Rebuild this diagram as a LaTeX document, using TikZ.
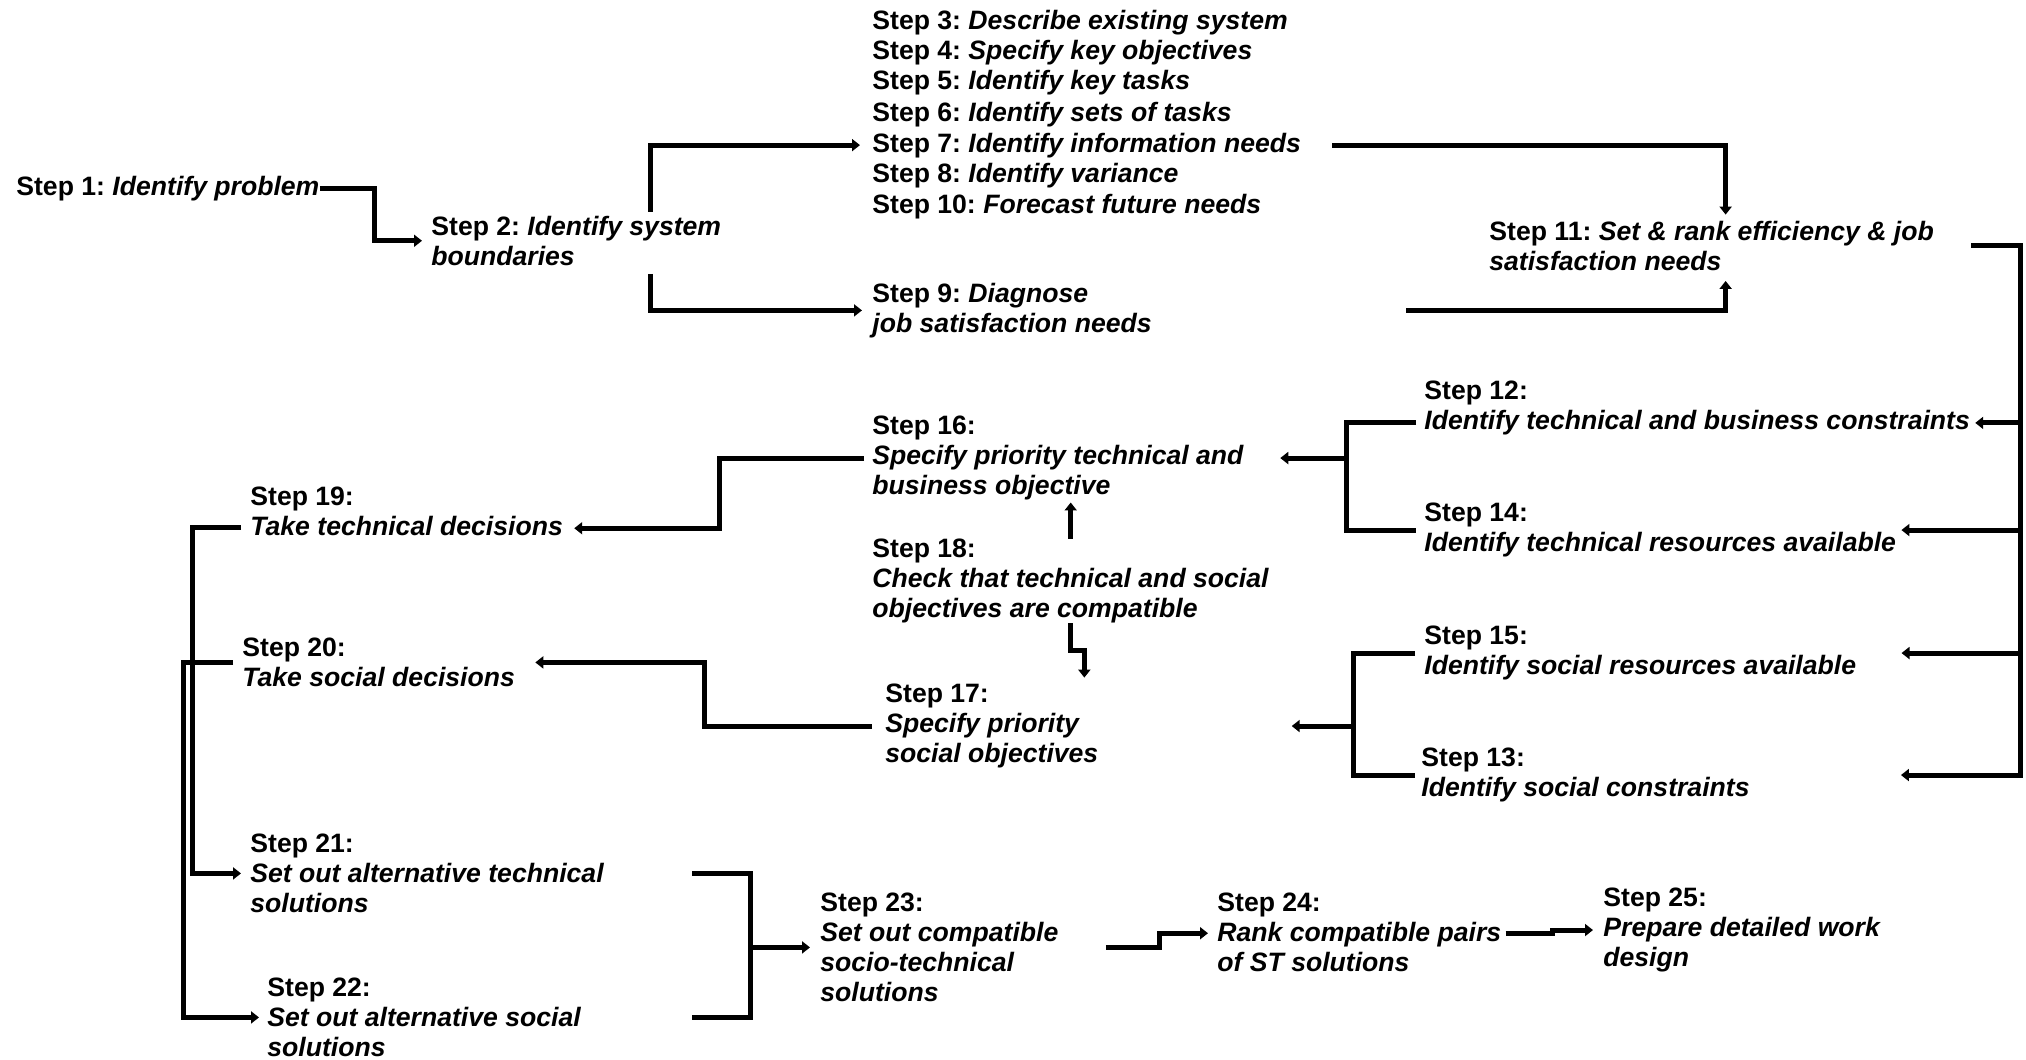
\documentclass[tikz,border=0pt]{standalone}
\usepackage{fontspec}
\setmainfont{Liberation Sans}
\usetikzlibrary{arrows.meta}
\frenchspacing

\begin{document}
\begin{tikzpicture}[x=0.5pt, y=-0.5pt]
        \tikzstyle{stepbox} = [anchor=north west, inner sep=0pt, align=left, font={\fontsize{13.3}{15}\selectfont\bfseries}]
        \tikzstyle{stepline} = [stepbox, anchor=base west]
        \tikzstyle{link} = [line width=2.5pt]
        \tikzstyle{flow} = [link, -{Triangle[length=4pt, width=6pt]}]
        \useasboundingbox (0,0) rectangle (2026,1060);
        % steps
        \node[stepline] (s1) at (16,195) {Step 1: \textit{Identify problem}};
        \node[stepbox] (s2) at (431,215.6) {Step 2: \textit{Identify system}\\\textit{boundaries}};
        \node[stepline] (s3) at (872,29) {Step 3: \textit{Describe existing system}};
        \node[stepline] (s4) at (872,60) {Step 4: \textit{Specify key objectives}};
        \node[stepline] (s5) at (872,90) {Step 5: \textit{Identify key tasks}};
        \node[stepline] (s6) at (872,121) {Step 6: \textit{Identify sets of tasks}};
        \node[stepline] (s7) at (872,152) {Step 7: \textit{Identify information needs}};
        \node[stepline] (s8) at (872,182) {Step 8: \textit{Identify variance}};
        \node[stepline] (s10) at (872,213) {Step 10: \textit{Forecast future needs}};
        \node[stepbox] (s9) at (872,282.6) {Step 9: \textit{Diagnose}\\\textit{job satisfaction needs}};
        \node[stepbox] (s11) at (1489,220.6) {Step 11: \textit{Set \& rank efficiency \& job}\\\textit{satisfaction needs}};
        \node[stepbox] (s12) at (1424,380.6) {Step 12:\\\textit{Identify technical and business constraints}};
        \node[stepbox] (s14) at (1424,502.6) {Step 14:\\\textit{Identify technical resources available}};
        \node[stepbox] (s15) at (1424,625.6) {Step 15:\\\textit{Identify social resources available}};
        \node[stepbox] (s13) at (1421,747.6) {Step 13:\\\textit{Identify social constraints}};
        \node[stepbox] (s16) at (872,415.6) {Step 16:\\\textit{Specify priority technical and}\\\textit{business objective}};
        \node[stepbox] (s18) at (872,538.6) {Step 18:\\\textit{Check that technical and social}\\\textit{objectives are compatible}};
        \node[stepbox] (s17) at (885,683.6) {Step 17:\\\textit{Specify priority}\\\textit{social objectives}};
        \node[stepbox] (s19) at (250,486.6) {Step 19:\\\textit{Take technical decisions}};
        \node[stepbox] (s20) at (242,637.6) {Step 20:\\\textit{Take social decisions}};
        \node[stepbox] (s21) at (250,833.6) {Step 21:\\\textit{Set out alternative technical}\\\textit{solutions}};
        \node[stepbox] (s22) at (267,977.6) {Step 22:\\\textit{Set out alternative social}\\\textit{solutions}};
        \node[stepbox] (s23) at (820,892.6) {Step 23:\\\textit{Set out compatible}\\\textit{socio-technical}\\\textit{solutions}};
        \node[stepbox] (s24) at (1217,892.6) {Step 24:\\\textit{Rank compatible pairs}\\\textit{of ST solutions}};
        \node[stepbox] (s25) at (1603,887.6) {Step 25:\\\textit{Prepare detailed work}\\\textit{design}};
        % junctions
        \coordinate (fork) at (650,243);
        \coordinate (rail) at (2020,246);
        \coordinate (j16) at (1346,457);
        \coordinate (j17) at (1353,724);
        \coordinate (j23) at (750,947);
        \coordinate (b23) at (692,947);
        \coordinate (t12) at ([yshift=6.3pt]s12.south east);
        \coordinate (t12w) at ([yshift=6.3pt]s12.south west);
        \coordinate (t19) at ([yshift=4pt]s19.south east);
        \coordinate (t19w) at ([yshift=4.5pt]s19.south west);
        \coordinate (t24) at ([yshift=19.5pt]s24.south west);
        \coordinate (t24e) at ([yshift=19.5pt]s24.south east);
        % top row
        \draw[flow, shorten >=4.5pt] (s1.east) -- ++(55,0) |- (s2.west);
        \draw[flow, shorten <=2pt, shorten >=6pt] (s2.north -| fork) |- (s7.west);
        \draw[flow, shorten <=4pt, shorten >=5pt] (s2.south -| fork) |- (s9.west);
        \draw[flow, shorten <=15.5pt, shorten >=3pt] (s7.east) -| ([xshift=7pt]s11.north);
        \draw[flow, shorten <=127pt, shorten >=5pt] (s9.east) -| ([xshift=7pt]s11.south);
        % right rail
        \draw[flow, shorten <=18.5pt, shorten >=75.5pt] (s11.east) -| (rail |- s13.east) -- (s13.east);
        \draw[flow, shorten >=2.5pt] (rail |- t12) -- (t12);
        \draw[flow, shorten >=2.5pt] (rail |- s14.east) -- (s14.east);
        \draw[flow, shorten >=22.5pt] (rail |- s15.east) -- (s15.east);
        % middle
        \draw[link, shorten <=4pt, shorten >=4pt] (t12w) -| (s16.east -| j16) |- (s14.west);
        \draw[flow, shorten >=18pt] (s16.east -| j16) -- (s16.east);
        \draw[link, shorten <=4.5pt, shorten >=3pt] (s15.west) -| (s17.east -| j17) |- (s13.west);
        \draw[flow, shorten >=96.5pt] (s17.east -| j17) -- (s17.east);
        \draw[flow, shorten >=1pt] (s18.north) -- (s18.north |- s16.south);
        \draw[flow, shorten >=3pt] (s18.south) -- ++(0,27) -| ([xshift=46.25pt]s17.north);
        \draw[flow, shorten <=4pt, shorten >=5.5pt] (s16.west) -- ++(-153,0) |- (t19);
        \draw[flow, shorten <=6.5pt, shorten >=10pt] (s17.west) -- ++(-181,0) |- (s20.east);
        % left and bottom
        \draw[flow, shorten <=4.5pt, shorten >=4.5pt] (t19w) -- ++(-58,0) |- (s21.west);
        \draw[flow, shorten <=4.5pt, shorten >=4pt] (s20.west) -- ++(-59,0) |- (s22.west);
        \draw[link] (s21.east -| b23) -| (s23.west -| j23) |- (s22.east -| b23);
        \draw[flow, shorten >=5pt] (s23.west -| j23) -- (s23.west);
        \draw[flow, shorten <=23.5pt, shorten >=4.5pt] (s23.east) -- ++(101,0) |- (t24);
        \draw[flow, shorten <=2pt, shorten >=5pt] (t24e) -- ++(51,0) |- (s25.west);
\end{tikzpicture}
\end{document}
